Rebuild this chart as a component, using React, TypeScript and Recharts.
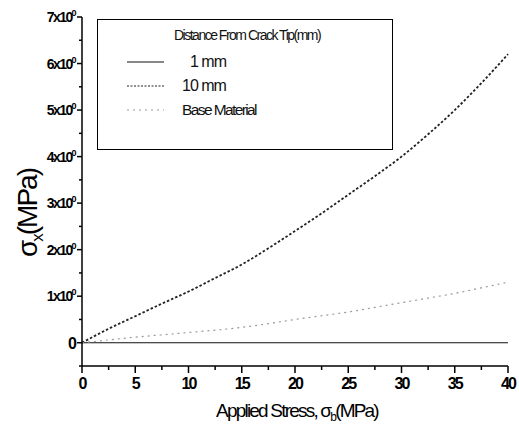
import React from "react";
import { LineChart, Line, XAxis, YAxis, Label } from "recharts";

const stress = [0, 2.5, 5, 7.5, 10, 12.5, 15, 17.5, 20, 22.5, 25, 27.5, 30, 32.5, 35, 37.5, 40];
const oneMm = [0, 0, 0, 0, 0, 0, 0, 0, 0, 0, 0, 0, 0, 0, 0, 0, 0];
const tenMm = [0, 0.3, 0.57, 0.84, 1.1, 1.39, 1.68, 2.03, 2.4, 2.78, 3.18, 3.58, 4.0, 4.48, 5.0, 5.58, 6.2];
const baseMaterial = [0, 0.06, 0.12, 0.17, 0.22, 0.27, 0.33, 0.41, 0.5, 0.58, 0.66, 0.76, 0.86, 0.96, 1.06, 1.18, 1.3];

const xTicks = [0, 2.5, 5, 7.5, 10, 12.5, 15, 17.5, 20, 22.5, 25, 27.5, 30, 32.5, 35, 37.5, 40];
const yTicks = [-0.5, 0, 0.5, 1, 1.5, 2, 2.5, 3, 3.5, 4, 4.5, 5, 5.5, 6, 6.5, 7];

const legendTitle = "Distance From Crack Tip(mm)";
const seriesNames = ["1 mm", "10 mm", "Base Material"];

const data = stress.map((s, i) => ({
  s,
  one: oneMm[i],
  ten: tenMm[i],
  base: baseMaterial[i],
}));

const font = "'Liberation Sans', Arial, sans-serif";

const XTick = (props: any) => {
  const { x, y, payload } = props;
  const major = payload.value % 5 === 0;
  return (
    <g>
      <line x1={x} x2={x} y1={y} y2={y + (major ? 7 : 4)} stroke="#000" strokeWidth={1.5} />
      {major && (
        <text x={x} y={y + 23} textAnchor="middle" fontSize={16} fontFamily={font} fontWeight={700} letterSpacing={-2} fill="#000">
          {payload.value}
        </text>
      )}
    </g>
  );
};

const YTick = (props: any) => {
  const { x, y, payload } = props;
  const v = payload.value;
  const major = Number.isInteger(v);
  return (
    <g>
      <line x1={x} x2={x - (major ? 5 : 3)} y1={y} y2={y} stroke="#000" strokeWidth={1.5} />
      {major && (
        v === 0 ? (
          <text x={x - 5} y={y + 6} textAnchor="end" fontSize={16} fontFamily={font} fontWeight={700} fill="#000">0</text>
        ) : (
          <text x={x - 7} y={y + 5} textAnchor="end" fontSize={14} fontFamily={font} fontWeight={700} letterSpacing={-1.6} fill="#000">
            {v}x10<tspan dy={-6} fontSize={9}>0</tspan>
          </text>
        )
      )}
    </g>
  );
};

const LegendBox = () => (
  <div style={{ position: "absolute", left: 97, top: 19, width: 296, height: 131, border: "1.5px solid #000", boxSizing: "border-box", fontFamily: font, color: "#111", background: "#fff" }}>
    <div style={{ position: "absolute", left: 76, top: 7, fontSize: 14, letterSpacing: -1.5, whiteSpace: "nowrap" }}>{legendTitle}</div>
    <svg style={{ position: "absolute", left: 0, top: 0 }} width={296} height={131}>
      <line x1={29} x2={66} y1={42} y2={42} stroke="#111" strokeWidth={1} />
      <line x1={29} x2={66} y1={66} y2={66} stroke="#222" strokeWidth={1.2} strokeDasharray="2 1.5" />
      <line x1={29} x2={66} y1={90} y2={90} stroke="#999" strokeWidth={1} strokeDasharray="2 4" />
    </svg>
    <div style={{ position: "absolute", left: 92, top: 33, fontSize: 16, letterSpacing: -1, whiteSpace: "nowrap" }}>{seriesNames[0]}</div>
    <div style={{ position: "absolute", left: 84, top: 57, fontSize: 16, letterSpacing: -1, whiteSpace: "nowrap" }}>{seriesNames[1]}</div>
    <div style={{ position: "absolute", left: 84, top: 81, fontSize: 15.5, letterSpacing: -1.6, whiteSpace: "nowrap" }}>{seriesNames[2]}</div>
  </div>
);

export default function App() {
  return (
    <div style={{ position: "absolute", left: 0, top: 0, width: 519, height: 428, background: "#fff" }}>
      <LineChart width={519} height={428} data={data} margin={{ top: 17, right: 11, left: 22, bottom: 0 }}>
        <XAxis
          dataKey="s"
          type="number"
          domain={[0, 40]}
          ticks={xTicks}
          tick={<XTick />}
          tickLine={false}
          tickSize={0}
          tickMargin={0}
          height={62}
          axisLine={{ stroke: "#000", strokeWidth: 1.5 }}
          interval={0}
        >
          <Label
            content={() => (
              <text x={297} y={417} textAnchor="middle" fontSize={19} fontFamily={font} letterSpacing={-1.8} fill="#000">
                Applied Stress, σ<tspan dy={4} fontSize={12}>b</tspan>
                <tspan dy={-4}>(MPa)</tspan>
              </text>
            )}
          />
        </XAxis>
        <YAxis
          type="number"
          domain={[-0.5, 7]}
          ticks={yTicks}
          tick={<YTick />}
          tickLine={false}
          tickSize={0}
          tickMargin={0}
          width={60}
          axisLine={{ stroke: "#000", strokeWidth: 1.5 }}
          interval={0}
        >
          <Label
            content={() => (
              <text x={0} y={0} transform="translate(37,213) rotate(-90)" textAnchor="middle" fontSize={28} fontFamily={font} letterSpacing={-2} fill="#000">
                σ<tspan dy={6} fontSize={17}>x</tspan>
                <tspan dy={-6}>(MPa)</tspan>
              </text>
            )}
          />
        </YAxis>
        <Line type="monotone" dataKey="one" stroke="#111" strokeWidth={1.2} dot={false} isAnimationActive={false} />
        <Line type="monotone" dataKey="ten" stroke="#222" strokeWidth={1.8} strokeDasharray="2.5 2" dot={false} isAnimationActive={false} />
        <Line type="monotone" dataKey="base" stroke="#999" strokeWidth={1.2} strokeDasharray="2 4" dot={false} isAnimationActive={false} />
      </LineChart>
      <LegendBox />
    </div>
  );
}
